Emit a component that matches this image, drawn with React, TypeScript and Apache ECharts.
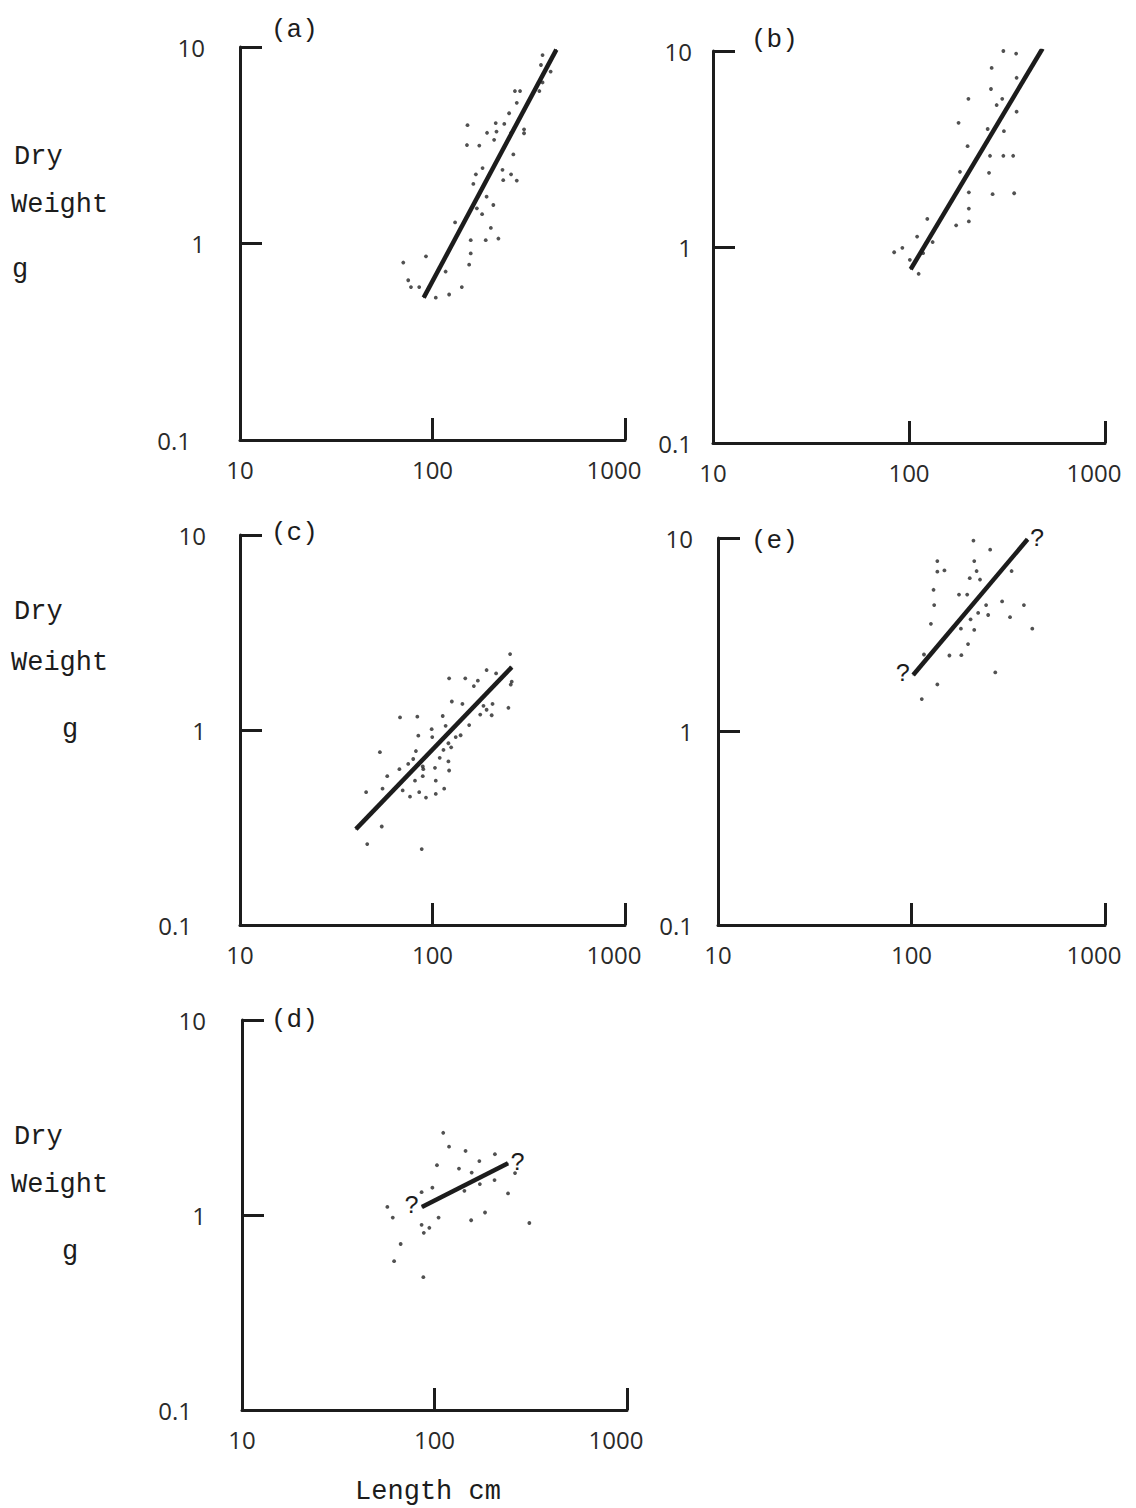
import React, { useEffect, useRef } from "react";
import * as echarts from "echarts";

// Log-log axes shared by every panel
const xTicks = [10, 100, 1000];
const yTicks = [0.1, 1, 10];

// Length (cm) vs dry weight (g) observations, one list per panel
const pointsA: [number, number][] = [
  [373, 9.1], [366, 8.1], [411, 7.5], [268, 5.97], [285, 5.97], [373, 6.6], [359, 5.97],
  [274, 5.2], [250, 4.6], [152, 4.0], [213, 4.1], [236, 4.06], [192, 3.66], [215, 3.71],
  [299, 3.81], [299, 3.64], [256, 3.66], [209, 3.37], [151, 3.17], [175, 3.15], [263, 2.84],
  [182, 2.42], [168, 2.25], [231, 2.37], [256, 2.25], [163, 2.01], [233, 2.1], [274, 2.09],
  [191, 1.73], [207, 1.57], [170, 1.51], [181, 1.41], [131, 1.28], [201, 1.2], [158, 1.04],
  [189, 1.04], [220, 1.06], [92.5, 0.86], [158, 0.89], [70.5, 0.8], [155, 0.78], [117, 0.72],
  [74.8, 0.65], [77.3, 0.6], [85.3, 0.6], [142, 0.6], [122, 0.55], [104, 0.53],
];

const pointsB: [number, number][] = [
  [303, 10.0], [352, 9.7], [264, 8.2], [354, 7.3], [262, 6.4], [201, 5.7], [299, 5.7],
  [280, 5.3], [354, 4.9], [179, 4.3], [252, 4.0], [305, 3.9], [199, 3.27], [259, 2.92],
  [303, 2.92], [340, 2.92], [182, 2.42], [256, 2.39], [202, 1.9], [267, 1.86], [344, 1.88],
  [202, 1.57], [124, 1.39], [202, 1.35], [174, 1.29], [110, 1.13], [132, 1.06], [92.5, 0.99],
  [84, 0.94], [118, 0.93], [101, 0.86], [112, 0.73],
];

const pointsC: [number, number][] = [
  [253, 2.45], [191, 2.03], [214, 1.95], [122, 1.84], [148, 1.84], [172, 1.79], [164, 1.68],
  [258, 1.77], [255, 1.71], [126, 1.4], [143, 1.36], [184, 1.33], [205, 1.36], [191, 1.27],
  [248, 1.3], [177, 1.2], [203, 1.19], [67.8, 1.16], [83.4, 1.17], [113, 1.18], [99, 1.01],
  [117, 1.05], [155, 1.06], [84.4, 0.935], [99.7, 0.92], [132, 0.92], [140, 0.94], [121, 0.855],
  [125, 0.815], [53.3, 0.77], [82, 0.78], [114, 0.79], [79.4, 0.71], [109, 0.72], [121, 0.69],
  [74.8, 0.67], [89, 0.65], [89.6, 0.63], [103, 0.64], [67.3, 0.63], [122, 0.62], [58.2, 0.58],
  [89, 0.58], [81.1, 0.55], [104, 0.55], [55, 0.5], [70, 0.49], [85.3, 0.48], [104, 0.47],
  [115, 0.5], [45.2, 0.48], [76.4, 0.455], [92.5, 0.45], [54.5, 0.32], [45.8, 0.26], [87.9, 0.245],
];

const pointsE: [number, number][] = [
  [209, 9.7], [255, 8.7], [136, 7.6], [211, 7.6], [136, 6.7], [148, 6.8], [217, 6.75],
  [329, 6.75], [200, 6.2], [226, 6.1], [130, 5.4], [176, 5.1], [194, 5.1], [243, 4.5],
  [294, 4.7], [381, 4.5], [131, 4.5], [202, 3.8], [221, 4.1], [249, 4.0], [323, 3.9],
  [126, 3.6], [180, 3.4], [211, 3.35], [421, 3.4], [196, 2.83], [116, 2.5], [157, 2.47],
  [181, 2.48], [271, 2.02], [136, 1.75], [113, 1.47],
];

const pointsD: [number, number][] = [
  [111, 2.64], [119, 2.24], [145, 2.13], [206, 2.05], [103, 1.8], [134, 1.73], [171, 1.89],
  [156, 1.65], [262, 1.64], [205, 1.51], [172, 1.44], [97.5, 1.38], [85.7, 1.31], [143, 1.33],
  [241, 1.29], [56.9, 1.1], [60.7, 0.97], [105, 0.97], [183, 1.03], [155, 0.94], [85.7, 0.89],
  [94, 0.86], [88, 0.81], [311, 0.91], [66.7, 0.71], [61.7, 0.58], [87.5, 0.48],
];

// Fitted regression lines (end points)
const fitA: [number, number][] = [[90, 0.53], [440, 9.7]];
const fitB: [number, number][] = [[102, 0.77], [480, 10.3]];
const fitC: [number, number][] = [[40, 0.31], [258, 2.1]];
const fitE: [number, number][] = [[102, 1.96], [398, 9.85]];
const fitD: [number, number][] = [[86, 1.1], [241, 1.84]];

const MONO = "'Liberation Mono', 'DejaVu Sans Mono', monospace";
const SANS = "'Open Sans', 'DejaVu Sans', sans-serif";
const INK = "#1c1c1c";
const LABEL_INK = "#2a2a2a";
const TICK_FONT = 24;

type Panel = {
  letter: string;
  pts: [number, number][];
  fit: [number, number][];
  uncertain: boolean;
  grid: { left: number; top: number; width: number; height: number };
  yMargin: number;
  lowPad: number;
  letterPos: [number, number];
  yTitle: null | { dry: number; weight: number; g: number; gx: number };
};

const panels: Panel[] = [
  {
    letter: "(a)", pts: pointsA, fit: fitA, uncertain: false,
    grid: { left: 240, top: 47, width: 385, height: 393 },
    yMargin: 35, lowPad: 14, letterPos: [271, 30],
    yTitle: { dry: 157, weight: 205, g: 270, gx: 12 },
  },
  {
    letter: "(b)", pts: pointsB, fit: fitB, uncertain: false,
    grid: { left: 713, top: 51, width: 392, height: 392 },
    yMargin: 21, lowPad: 0, letterPos: [751, 40],
    yTitle: null,
  },
  {
    letter: "(c)", pts: pointsC, fit: fitC, uncertain: false,
    grid: { left: 240, top: 535, width: 385, height: 390 },
    yMargin: 34, lowPad: 14, letterPos: [271, 533],
    yTitle: { dry: 612, weight: 663, g: 730, gx: 62 },
  },
  {
    letter: "(e)", pts: pointsE, fit: fitE, uncertain: true,
    grid: { left: 718, top: 538, width: 387, height: 387 },
    yMargin: 25, lowPad: 0, letterPos: [751, 541],
    yTitle: null,
  },
  {
    letter: "(d)", pts: pointsD, fit: fitD, uncertain: true,
    grid: { left: 242, top: 1020, width: 385, height: 390 },
    yMargin: 36, lowPad: 14, letterPos: [271, 1020],
    yTitle: { dry: 1137, weight: 1185, g: 1252, gx: 62 },
  },
];

function fmtTick(v: number): string {
  const tick = yTicks.concat(xTicks).find((t) => Math.abs(t - v) / t < 1e-6);
  return tick !== undefined ? String(tick) : String(v);
}

function buildOption() {
  const grids: any[] = [];
  const xAxes: any[] = [];
  const yAxes: any[] = [];
  const series: any[] = [];
  const graphic: any[] = [];

  const axisLine = { show: true, lineStyle: { color: INK, width: 3 } };
  const axisTick = { show: true, inside: true, length: 22, lineStyle: { color: INK, width: 3 } };
  const labelText = { fontFamily: SANS, fontSize: TICK_FONT, color: LABEL_INK };

  panels.forEach((p, i) => {
    grids.push({ ...p.grid, containLabel: false });
    xAxes.push({
      type: "log",
      logBase: 10,
      gridIndex: i,
      min: xTicks[0],
      max: xTicks[xTicks.length - 1],
      axisLine,
      axisTick,
      minorTick: { show: false },
      splitLine: { show: false },
      axisLabel: {
        margin: 17,
        ...labelText,
        formatter: (v: number) => {
          const s = fmtTick(v);
          // the top label sits a little to the left of its tick
          return s === "1000" ? `{end|${s}}` : `{n|${s}}`;
        },
        rich: {
          end: { ...labelText, padding: [0, 22, 0, 0] },
          n: { ...labelText },
        },
      },
    });
    yAxes.push({
      type: "log",
      logBase: 10,
      gridIndex: i,
      min: yTicks[0],
      max: yTicks[yTicks.length - 1],
      axisLine,
      axisTick,
      minorTick: { show: false },
      splitLine: { show: false },
      axisLabel: {
        margin: p.yMargin,
        ...labelText,
        formatter: (v: number) => {
          const s = fmtTick(v);
          return s === "0.1" ? `{low|${s}}` : `{n|${s}}`;
        },
        rich: {
          low: { ...labelText, padding: [0, p.lowPad, 0, 0] },
          n: { ...labelText },
        },
      },
    });

    series.push({
      type: "scatter",
      xAxisIndex: i,
      yAxisIndex: i,
      data: p.pts,
      symbol: "circle",
      symbolSize: 3.8,
      itemStyle: { color: "#262626" },
      silent: true,
    });

    const qLabel = (pos: string) => ({
      show: p.uncertain,
      formatter: "?",
      position: pos,
      distance: 2,
      fontFamily: MONO,
      fontSize: 25,
      color: INK,
    });
    series.push({
      type: "line",
      xAxisIndex: i,
      yAxisIndex: i,
      data: [
        { value: p.fit[0], label: qLabel("left") },
        { value: p.fit[1], label: qLabel("right") },
      ],
      symbol: "circle",
      symbolSize: 1,
      showSymbol: true,
      itemStyle: { color: INK },
      lineStyle: { color: INK, width: 4.5 },
      silent: true,
      z: 3,
    });

    graphic.push({
      type: "text",
      x: p.letterPos[0],
      y: p.letterPos[1],
      style: {
        text: p.letter,
        font: `26px ${MONO}`,
        fill: INK,
        verticalAlign: "middle",
      },
    });

    if (p.yTitle) {
      const t = p.yTitle;
      const f = `27px ${MONO}`;
      graphic.push(
        { type: "text", x: 14, y: t.dry, style: { text: "Dry", font: f, fill: INK, verticalAlign: "middle" } },
        { type: "text", x: 11, y: t.weight, style: { text: "Weight", font: f, fill: INK, verticalAlign: "middle" } },
        { type: "text", x: t.gx, y: t.g, style: { text: "g", font: f, fill: INK, verticalAlign: "middle" } }
      );
    }
  });

  graphic.push({
    type: "text",
    x: 428,
    y: 1492,
    style: {
      text: "Length cm",
      font: `27px ${MONO}`,
      fill: INK,
      align: "center",
      verticalAlign: "middle",
    },
  });

  return {
    animation: false,
    backgroundColor: "#ffffff",
    grid: grids,
    xAxis: xAxes,
    yAxis: yAxes,
    series,
    graphic,
  };
}

export default function App() {
  const ref = useRef<HTMLDivElement>(null);

  useEffect(() => {
    if (!ref.current) return;
    const chart = echarts.init(ref.current, null, { renderer: "svg" });
    chart.setOption(buildOption());
    return () => chart.dispose();
  }, []);

  return (
    <div
      ref={ref}
      style={{ position: "absolute", left: 0, top: 0, width: 1136, height: 1508, background: "#fff" }}
    />
  );
}
